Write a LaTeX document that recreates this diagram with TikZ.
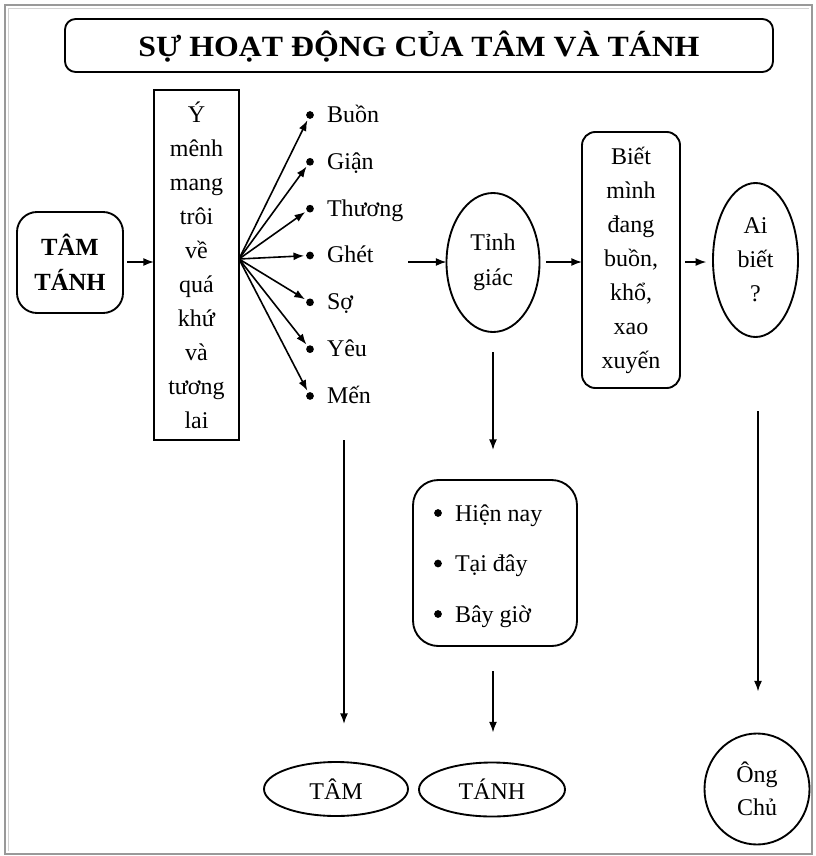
\documentclass[tikz,border=0pt]{standalone}
\usepackage{fontspec}
\usepackage{graphicx}
\setmainfont{Liberation Serif}
\usetikzlibrary{arrows.meta,shapes.geometric}
\newcommand\bodyfont{\fontsize{18pt}{25.5pt}\selectfont}

\begin{document}
\begin{tikzpicture}[x=0.75pt,y=-0.75pt,
  every node/.style={inner sep=0pt, outer sep=0pt},
  boxline/.style={draw, line width=1.4pt},
  txt/.style={font=\bodyfont, align=center},
  oval/.style={boxline, ellipse, txt},
  arr/.style={line width=1.2pt, -{Latex[length=8pt,width=6pt]}},
  dotmark/.style={circle, fill, minimum size=5.8pt},
]
% page and frame
\useasboundingbox (0,0) rectangle (816,856);
\fill[white] (0,0) rectangle (816,856);
\draw[gray!80, line width=1.8pt] (5,5) rectangle (812,854);
\draw[gray!35, line width=1.2pt] (8.5,851) -- (8.5,8.5) -- (809,8.5);

% title
\node[boxline, rounded corners=8pt, minimum width=531pt, minimum height=39.75pt]
  (title) at (419,45.5) {};
\node[font=\fontsize{20.4pt}{24pt}\bfseries] (titletext) at (419,47)
  {\scalebox{1.17}[1.08]{SỰ HOẠT ĐỘNG CỦA TÂM VÀ TÁNH}};

% left column
\node[boxline, rounded corners=15pt, minimum width=79.5pt, minimum height=75.75pt,
  font=\fontsize{18.5pt}{26pt}\selectfont\bfseries, align=center]
  (tt) at (70,262.5) {TÂM\\TÁNH};
\node[boxline, txt, minimum width=63.75pt, minimum height=262.5pt]
  (ybox) at (196.5,265) {Ý\\mênh\\mang\\trôi\\về\\quá\\khứ\\và\\tương\\lai};
\draw[arr, shorten <=3pt] (tt.east |- 0,262) -- (ybox.west |- 0,262);

% fan of feelings
\coordinate (fan) at (239,259);
\foreach \w [count=\i from 0] in {Buồn,Giận,Thương,Ghét,Sợ,Yêu,Mến}{
  \pgfmathsetmacro\yy{115+46.83*\i}
  \node[dotmark] (d\i) at (310,\yy) {};
  \node[font=\bodyfont, anchor=base west] (l\i) at (327,\yy+7.5) {\w};
  \draw[arr, shorten >=1.5pt] (fan) -- (d\i);
}

% middle and right of the upper row
\node[oval, minimum width=69.75pt, minimum height=104.25pt,
  font=\fontsize{18pt}{26.25pt}\selectfont] (tg) at (493,262.5) {Tỉnh\\giác};
\node[boxline, txt, rounded corners=10pt, minimum width=73.5pt, minimum height=192pt]
  (biet) at (631,260) {Biết\\mình\\đang\\buồn,\\khổ,\\xao\\xuyến};
\node[oval, minimum width=63.75pt, minimum height=115.5pt] (ai) at (755.5,260)
  {Ai\\biết\\?};

\coordinate (gs) at (408,262);
\draw[arr] (gs) -- (tg.west |- 0,262);
\draw[arr, shorten <=5pt] (tg.east |- 0,262) -- (biet.west |- 0,262);
\draw[arr, shorten <=4pt, shorten >=5pt] (biet.east |- 0,262) -- (ai.west |- 0,262);

% present moment box with its three bullet items
\node[boxline, rounded corners=19pt, minimum width=123pt, minimum height=124.5pt]
  (now) at (495,563) {};
\foreach \t [count=\k from 0] in {Hiện nay,Tại đây,Bây giờ}{
  \pgfmathsetmacro\ry{513+50.5*\k}
  \node[dotmark] (b\k) at (438,\ry) {};
  \node[font=\bodyfont, anchor=base west] (i\k) at (455,\ry+8) {\t};
}

% bottom row
\node[oval, minimum width=108pt, minimum height=40.5pt] (tam) at (336,789) {TÂM};
\node[oval, minimum width=109.5pt, minimum height=40.5pt] (tanh) at (492,789.5) {TÁNH};
\node[oval, minimum width=78.75pt, minimum height=83.25pt,
  font=\fontsize{18pt}{24.75pt}\selectfont] (ong) at (757,789) {Ông\\Chủ};

% downward arrows
\coordinate (m1) at (344,440);
\coordinate (m2) at (344,724);
\draw[arr] (m1) -- (m2);
\draw[arr, shorten <=15pt, shorten >=22.5pt] (tg.south |- 0,332) -- (now.north -| tg.south);
\draw[arr, shorten <=18.75pt, shorten >=22.5pt] (now.south -| tg.south) -- (tanh.north -| tg.south);
\draw[arr, shorten <=55.5pt, shorten >=31.5pt] (ai.south -| 0,0) ++(758,0) -- (ong.north -| 758,0);
\end{tikzpicture}
\end{document}
